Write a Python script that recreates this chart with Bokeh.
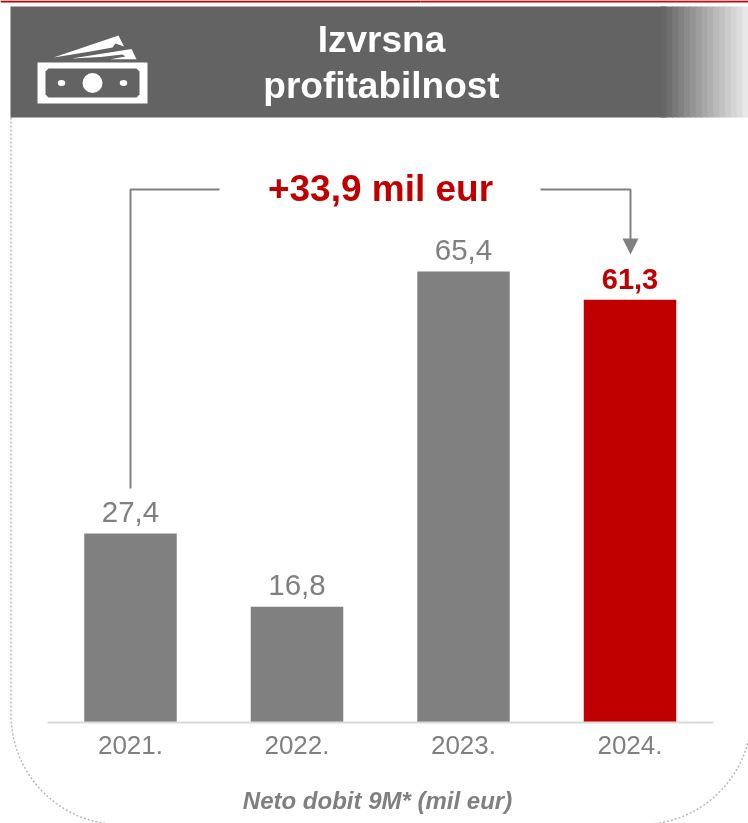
import numpy as np
from bokeh.embed import file_html
from bokeh.resources import INLINE
from bokeh.plotting import figure
from bokeh.models import Range1d, LinearAxis, FixedTicker, ColumnDataSource
from bokeh.core.properties import value

# ---- data ----
years = ["2021.", "2022.", "2023.", "2024."]
profit = [27.4, 16.8, 65.4, 61.3]
labels = ["27,4", "16,8", "65,4", "61,3"]
delta_label = "+33,9 mil eur"
title_lines = ["Izvrsna", "profitabilnost"]
axis_title = "Neto dobit 9M* (mil eur)"

GREY = "#808080"
RED = "#c00000"
FONT = value("Liberation Sans")
W, H = 748, 823
BASE = 722
LEFT = 6
PX_PER_UNIT = 6.896
STEP = 166.5
X0 = 130
FIXED = {"position": "fixed", "left": "0px", "top": "0px"}

pos = list(range(len(years)))

# ---- backdrop: top rule and dotted rounded frame, which run past the chart's plot area ----
q = figure(width=W, height=H, output_backend="svg", toolbar_location=None,
           x_axis_type=None, y_axis_type=None, x_range=Range1d(0, W), y_range=Range1d(H, 0),
           min_border=0, outline_line_color=None)
q.styles = FIXED
q.grid.visible = False
r = 110
a1 = np.linspace(np.pi, np.pi / 2, 40)
a2 = np.linspace(np.pi / 2, 0, 40)
fx = np.r_[10.5, 10.5 + r + r * np.cos(a1), 751 - r + r * np.cos(a2), 751]
fy = np.r_[117, 714 + r * np.sin(a1), 714 + r * np.sin(a2), 600]
q.line(fx, fy, line_color="#b8b8b8", line_width=1.5, line_dash="2 2")
q.quad(left=[0, 420], right=[420, W], top=[0, 0], bottom=[2, 2], color=[RED, "#d80000"], line_alpha=0)

# ---- chart ----
p = figure(width=W, height=H, output_backend="svg", toolbar_location=None,
           x_axis_type=None, y_axis_type=None,
           x_range=Range1d((LEFT - X0) / STEP, (W - X0) / STEP),
           y_range=Range1d(0, BASE / PX_PER_UNIT),
           min_border_left=LEFT, min_border_right=0, min_border_top=0,
           min_border_bottom=H - BASE, outline_line_color=None,
           background_fill_color=None, border_fill_color=None)
p.styles = FIXED
p.grid.visible = False

# pixel ranges for the decoration
p.extra_x_ranges["px"] = Range1d(LEFT, W)
p.extra_y_ranges["px"] = Range1d(BASE, 0)
PX = dict(x_range_name="px", y_range_name="px")

# header
p.quad(left=[10], right=[665], top=[6], bottom=[117], color="#636363", line_alpha=0, **PX)
edges = np.linspace(660, 748, 16)
shades = np.linspace(0x66, 0xe8, 15).astype(int)
p.quad(left=edges[:-1], right=edges[1:] + 1, top=6, bottom=117,
       color=["#%02x%02x%02x" % (s, s, s) for s in shades], line_alpha=0, **PX)
p.text(x=[381, 381], y=[39, 85], text=title_lines, text_align="center", text_baseline="middle",
       text_color="white", text_font=FONT, text_font_style="bold", text_font_size="37px", **PX)

# banknote icon
p.quad(left=[37], right=[147], top=[62], bottom=[103], color="white", line_alpha=0, **PX)
p.patch(x=[48, 136, 139, 139, 136, 48, 45, 45], y=[68, 68, 71, 94, 97, 97, 94, 71],
        color="#636363", line_alpha=0, **PX)
p.ellipse(x=[92, 61, 123], y=[82.5, 82.5, 82.5], width=[20, 7.5, 7.5], height=[20, 6, 6],
          color="white", line_alpha=0, **PX)
p.patch(x=[53, 118, 123.5, 115, 112, 90], y=[57, 35, 46, 43, 47, 51], color="white", line_alpha=0, **PX)
p.patch(x=[71, 131, 136, 110, 125, 122, 100], y=[58, 48.5, 58.8, 58.8, 56, 54, 56.5],
        color="white", line_alpha=0, **PX)

# bars
src = ColumnDataSource(dict(x=pos, top=profit, label=labels,
                            color=[GREY, GREY, GREY, RED]))
p.vbar(x="x", top="top", bottom=0, width=92.5 / STEP, color="color", line_alpha=0, source=src)

# value labels
p.text(x=pos[:3], y=profit[:3], text=labels[:3], y_offset=-21.5, text_align="center",
       text_baseline="middle", text_color=GREY, text_font=FONT, text_font_size="29.5px")
p.text(x=pos[3:], y=profit[3:], text=labels[3:], y_offset=-21, text_align="center",
       text_baseline="middle", text_color=RED, text_font=FONT, text_font_style="bold",
       text_font_size="29px")

# change callout
p.line(x=[130, 130, 219], y=[488, 189, 189], line_color=GREY, line_width=2, **PX)
p.line(x=[540, 630, 630], y=[189, 189, 240], line_color=GREY, line_width=2, **PX)
p.patch(x=[622, 638, 630], y=[238, 238, 254], color=GREY, line_alpha=0, **PX)
p.text(x=[380], y=[188], text=[delta_label], text_align="center", text_baseline="middle",
       text_color=RED, text_font=FONT, text_font_style="bold", text_font_size="37px", **PX)

# x axis
ax = LinearAxis(ticker=FixedTicker(ticks=pos), bounds=(-0.5, 3.5),
                major_label_overrides=dict(zip(pos, years)),
                major_tick_line_color=None, minor_tick_line_color=None,
                axis_line_color="#d9d9d9", axis_line_width=2,
                major_label_text_color=GREY, major_label_text_font="Liberation Sans",
                major_label_text_font_size="26px", major_label_standoff=7,
                axis_label=axis_title, axis_label_text_color=GREY,
                axis_label_text_font="Liberation Sans", axis_label_text_font_style="bold italic",
                axis_label_text_font_size="24px", axis_label_standoff=30)
p.add_layout(ax, "below")

open("out.html", "w").write(file_html([q, p], INLINE))
